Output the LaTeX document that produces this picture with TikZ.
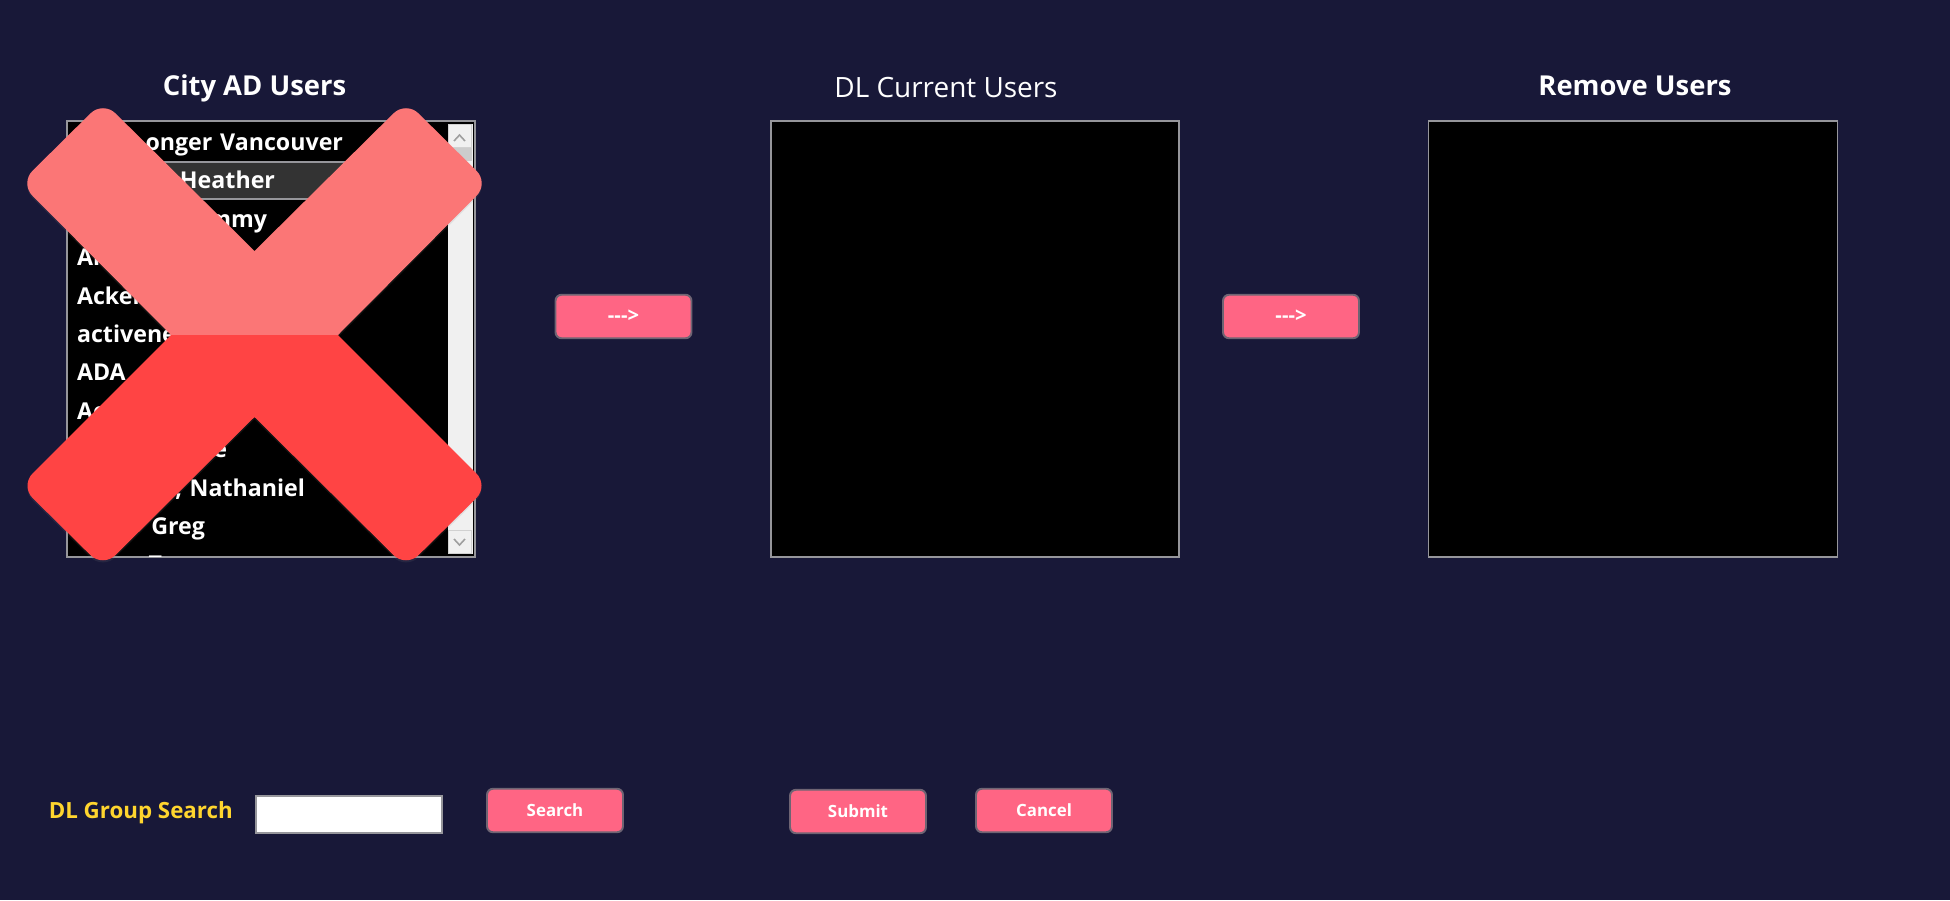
\documentclass[tikz,border=0pt]{standalone}
\usepackage{fontspec}
\setmainfont{Open Sans}
\usetikzlibrary{shadows}
\definecolor{pagebg}{RGB}{24,24,56}
\definecolor{btnpink}{RGB}{255,101,132}
\definecolor{btnedge}{RGB}{110,100,115}
\definecolor{boxedge}{RGB}{150,150,155}
\definecolor{searchyellow}{RGB}{255,213,46}
\definecolor{crosslight}{RGB}{251,118,118}
\definecolor{crossdark}{RGB}{255,68,68}
\tikzstyle{listbox} = [
    rectangle,
    minimum width=8.16cm,
    minimum height=8.72cm,
    inner sep=0pt,
    line width=0.8pt,
    draw=boxedge,
    fill=black
]
\tikzstyle{listrow} = [
    rectangle,
    text width=7.2cm,
    text height=0.36cm,
    text depth=0.12cm,
    inner sep=0pt,
    align=left,
    text=white,
    font=\bfseries\fontsize{13.2}{16}\selectfont
]
\tikzstyle{titlebold} = [
    inner sep=0pt,
    anchor=base,
    text=white,
    font=\bfseries\fontsize{15.6}{18}\selectfont
]
\tikzstyle{titleplain} = [
    inner sep=0pt,
    anchor=base,
    text=white,
    font=\fontsize{15.9}{18}\selectfont
]
\tikzstyle{button} = [
    rectangle,
    rounded corners=3.4pt,
    minimum width=2.72cm,
    minimum height=0.87cm,
    inner sep=0pt,
    line width=1.1pt,
    draw=btnedge,
    fill=btnpink,
    text=white,
    font=\bfseries\fontsize{9.6}{12}\selectfont
]
\tikzstyle{scrollcap} = [
    rectangle,
    minimum width=0.46cm,
    minimum height=0.47cm,
    inner sep=0pt,
    line width=0.5pt,
    draw=black!18,
    fill=black!6
]
\tikzstyle{chevron} = [line width=0.9pt, draw=black!38]
\tikzstyle{crossarm} = [
    drop shadow={shadow xshift=0pt, shadow yshift=-1.2pt, opacity=0.14}
]

\begin{document}
\begin{tikzpicture}[x=0.02cm, y=-0.02cm, node distance=0.768cm]

\fill [pagebg] (0,0) rectangle (1950,900);

\node (cityTitle) [titlebold] at (254.5,95) {City AD Users};
\node (dlTitle) [titleplain] at (946,97.5) {DL Current Users};
\node (removeTitle) [titlebold] at (1635,95) {Remove Users};

\node (cityBox) [listbox] at (271,339) {};
\node (dlBox) [listbox] at (975,339) {};
\node (removeBox) [listbox, minimum width=8.18cm] at (1633,339) {};

% scroll bar
\node (scrollTrack) [rectangle, fill=black!6, inner sep=0pt, minimum width=0.5cm, minimum height=8.62cm] at (460.5,339) {};
\node (scrollUp) [scrollcap] at (459.5,136) {};
\node (scrollThumb) [rectangle, fill=black!20, inner sep=0pt, minimum width=0.48cm, minimum height=0.26cm] at (460,154.5) {};
\node (scrollDown) [scrollcap] at (459.5,542) {};
\draw [chevron] (454,141) -- (459.5,135) -- (465,141);
\draw [chevron] (454,539) -- (459.5,545) -- (465,539);

% list rows
\begin{scope}
\clip (68,122) rectangle (447.5,556);
\node (rowMark) [rectangle, minimum width=7.6cm, minimum height=0.74cm, inner sep=0pt, line width=0.8pt, draw=boxedge, fill=black!80] at (257,180.5) {};
\node (row1) [listrow] at (257,144.5) {\makebox[5.32cm][r]{onger Vancouver}};
\node (row2) [listrow, below of=row1] {\makebox[3.96cm][r]{Heather}};
\node (row3) [listrow, below of=row2] {\makebox[3.8cm][r]{mmy}};
\node (row4) [listrow, below of=row3] {Al};
\node (row5) [listrow, below of=row4] {Acker};
\node (row6) [listrow, below of=row5] {activene};
\node (row7) [listrow, below of=row6] {ADA};
\node (row8) [listrow, below of=row7] {Ac};
\node (row9) [listrow, below of=row8] {\makebox[3cm][r]{e}};
\node (row10) [listrow, below of=row9] {\makebox[4.56cm][r]{, Nathaniel}};
\node (row11) [listrow, below of=row10] {\makebox[2.56cm][r]{Greg}};
\node (row12) [listrow, below of=row11] {\makebox[1.7cm][r]{T}};
\end{scope}

% the cross
\fill [crossarm, crosslight] (171,335) [rounded corners=10pt] -- (20,183.2) -- (103,101) [sharp corners] -- (254.5,251) [rounded corners=10pt] -- (406,101) -- (489,183.2) [sharp corners] -- (338,335) -- cycle;
\fill [crossarm, crossdark] (171,335) [rounded corners=10pt] -- (20.2,485.8) -- (103,567.5) [sharp corners] -- (254.5,417) [rounded corners=10pt] -- (406,567.5) -- (488.8,485.8) [sharp corners] -- (338,335) -- cycle;

\node (moveRight) [button, font=\bfseries\fontsize{11.5}{12}\selectfont] at (623.5,316.5) {{-}{-}{-}>};
\node (moveRemove) [button, font=\bfseries\fontsize{11.5}{12}\selectfont] at (1291,316.5) {{-}{-}{-}>};

\node (searchLabel) [inner sep=0pt, anchor=base west, text=searchyellow, font=\bfseries\fontsize{12.7}{15}\selectfont] at (48.5,818) {DL Group Search};
\node (searchInput) [rectangle, minimum width=3.72cm, minimum height=0.75cm, inner sep=0pt, line width=1.1pt, draw=boxedge, fill=white] at (349,814.5) {};
\node (searchBtn) [button] at (555,810.5) {Search};
\node (submitBtn) [button] at (858,811.5) {Submit};
\node (cancelBtn) [button] at (1044,810.5) {Cancel};

\end{tikzpicture}
\end{document}
